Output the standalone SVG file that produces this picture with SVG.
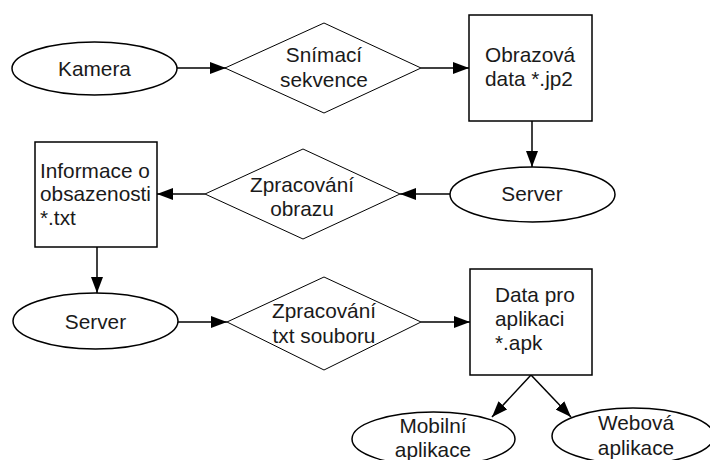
<svg xmlns="http://www.w3.org/2000/svg" width="710" height="460" viewBox="0 0 710 460">
<defs>
<style>
.sh{fill:#fff;stroke:#000;stroke-width:1.5}
.dm{fill:#fff;stroke:#000;stroke-width:1}
.t{font-family:"Liberation Sans",Arial,sans-serif;font-size:20.8px;fill:#1a1a1a}
.c{text-anchor:middle}
.ln{stroke:#000;stroke-width:1.5;fill:none;marker-end:url(#ah)}
</style>
<marker id="ah" viewBox="0 0 16 12" refX="16" refY="6" markerWidth="16" markerHeight="12" markerUnits="userSpaceOnUse" orient="auto">
<path d="M0,0 L16,6 L0,12 z" fill="#000"/>
</marker>
</defs>
<rect width="710" height="460" fill="#fff"/>
<g id="connectors">
<line class="ln" x1="177" y1="68" x2="226" y2="68"/>
<line class="ln" x1="421" y1="68" x2="469" y2="68"/>
<line class="ln" x1="532" y1="121" x2="532" y2="167"/>
<line class="ln" x1="450" y1="194" x2="400" y2="194"/>
<line class="ln" x1="205" y1="194" x2="157" y2="194"/>
<line class="ln" x1="97" y1="247" x2="97" y2="293"/>
<line class="ln" x1="178" y1="322" x2="227" y2="322"/>
<line class="ln" x1="421" y1="322" x2="470" y2="322"/>
<line class="ln" x1="531" y1="375" x2="492" y2="417"/>
<line class="ln" x1="531" y1="375" x2="571" y2="417"/>
</g>
<g id="kamera">
<ellipse class="sh" cx="94.5" cy="68.5" rx="82.5" ry="26.5"/>
<text class="t c" x="94.5" y="76">Kamera</text>
</g>
<g id="snimaci">
<polygon class="dm" points="225,68 324,23 421,68 324,113"/>
<text class="t c" x="324" y="62">Snímací</text>
<text class="t c" x="324" y="87">sekvence</text>
</g>
<g id="obrazova">
<rect class="sh" x="469" y="15" width="123" height="106"/>
<text class="t" x="485" y="62">Obrazová</text>
<text class="t" x="485" y="86">data *.jp2</text>
</g>
<g id="server1">
<ellipse class="sh" cx="532.5" cy="194.5" rx="82.5" ry="27.5"/>
<text class="t c" x="532" y="201">Server</text>
</g>
<g id="zpracovani-obrazu">
<polygon class="dm" points="205,194 303,149 400,194 303,239"/>
<text class="t c" x="302" y="192">Zpracování</text>
<text class="t c" x="302" y="216">obrazu</text>
</g>
<g id="informace">
<rect class="sh" x="35" y="142" width="122" height="105"/>
<text class="t" x="40" y="177.5">Informace o</text>
<text class="t" x="40" y="201">obsazenosti</text>
<text class="t" x="40" y="225">*.txt</text>
</g>
<g id="server2">
<ellipse class="sh" cx="95.5" cy="321" rx="82.5" ry="28"/>
<text class="t c" x="95.5" y="329">Server</text>
</g>
<g id="zpracovani-txt">
<polygon class="dm" points="227,322 324,277 421,322 324,370"/>
<text class="t c" x="324" y="318">Zpracování</text>
<text class="t c" x="324" y="343">txt souboru</text>
</g>
<g id="data-pro-aplikaci">
<rect class="sh" x="470" y="269" width="122" height="106"/>
<text class="t" x="495" y="302">Data pro</text>
<text class="t" x="495" y="326">aplikaci</text>
<text class="t" x="495" y="350">*.apk</text>
</g>
<g id="mobilni">
<ellipse class="sh" cx="433.5" cy="439" rx="81.5" ry="27"/>
<text class="t c" x="433" y="433">Mobilní</text>
<text class="t c" x="433" y="457">aplikace</text>
</g>
<g id="webova">
<ellipse class="sh" cx="633" cy="436" rx="81" ry="28"/>
<text class="t c" x="636" y="430">Webová</text>
<text class="t c" x="636" y="455">aplikace</text>
</g>
</svg>
